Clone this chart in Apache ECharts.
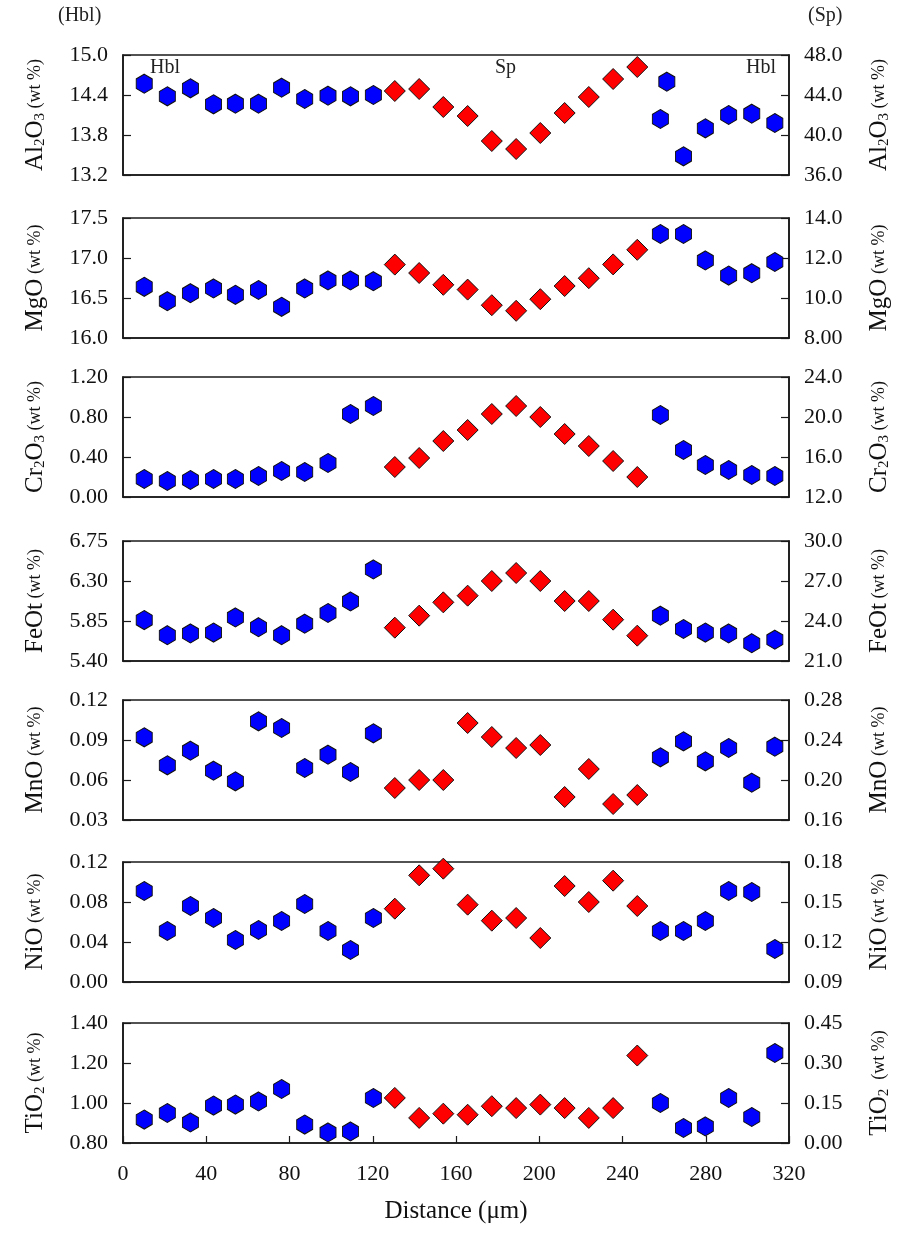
<!DOCTYPE html>
<html>
<head>
<meta charset="utf-8">
<script src="https://cdn.jsdelivr.net/npm/echarts@6/dist/echarts.min.js"></script>
<style>
html,body{margin:0;padding:0;background:#fff;}
#chart{width:905px;height:1238px;}
</style>
</head>
<body>
<div id="chart"></div>
<script>
// ---- Data ----
const distHbl = [10.2, 21.3, 32.4, 43.5, 54.0, 65.1, 76.2, 87.3, 98.5, 109.3, 120.3, 258.2, 269.3, 279.8, 291.0, 302.1, 313.2];
const distSp = [130.6, 142.3, 153.9, 165.6, 177.2, 188.9, 200.5, 212.2, 223.8, 235.5, 247.1];
const xTickLabels = ['0','40','80','120','160','200','240','280','320'];

const oxideKeys = ['Al2O3','MgO','Cr2O3','FeOt','MnO','NiO','TiO2'];

const al2o3Hbl = [14.57, 14.38, 14.50, 14.26, 14.27, 14.27, 14.51, 14.34, 14.39, 14.38, 14.40, 14.04, 13.48, 13.90, 14.10, 14.12, 13.98];
const al2o3Sp = [44.4, 44.6, 42.8, 41.9, 39.4, 38.6, 40.2, 42.2, 43.8, 45.6, 46.8];
const al2o3ExtraDist = [261.3];
const al2o3ExtraHbl = [14.60];

const mgoHbl = [16.64, 16.46, 16.56, 16.62, 16.54, 16.60, 16.39, 16.62, 16.72, 16.72, 16.71, 17.30, 17.30, 16.97, 16.78, 16.81, 16.95];
const mgoSp = [11.67, 11.25, 10.66, 10.42, 9.64, 9.36, 9.94, 10.60, 10.99, 11.68, 12.41];

const cr2o3Hbl = [0.18, 0.16, 0.17, 0.18, 0.18, 0.21, 0.26, 0.25, 0.34, 0.83, 0.91, 0.82, 0.47, 0.32, 0.27, 0.22, 0.21];
const cr2o3Sp = [15.0, 15.9, 17.6, 18.7, 20.3, 21.1, 20.0, 18.3, 17.1, 15.6, 14.0];

const feotHbl = [5.86, 5.69, 5.71, 5.72, 5.89, 5.78, 5.69, 5.82, 5.94, 6.07, 6.43, 5.91, 5.76, 5.72, 5.71, 5.60, 5.64];
const feotSp = [23.5, 24.4, 25.4, 25.9, 27.0, 27.6, 27.0, 25.5, 25.5, 24.1, 22.9];

const mnoHbl = [0.092, 0.071, 0.082, 0.067, 0.059, 0.104, 0.099, 0.069, 0.079, 0.066, 0.095, 0.077, 0.089, 0.074, 0.084, 0.058, 0.085];
const mnoSp = [0.192, 0.200, 0.200, 0.257, 0.243, 0.232, 0.235, 0.183, 0.211, 0.176, 0.185];

const nioHbl = [0.091, 0.051, 0.076, 0.064, 0.042, 0.052, 0.061, 0.078, 0.051, 0.032, 0.064, 0.051, 0.051, 0.061, 0.091, 0.090, 0.033];
const nioSp = [0.145, 0.170, 0.175, 0.148, 0.136, 0.138, 0.123, 0.162, 0.150, 0.166, 0.147];

const tio2Hbl = [0.917, 0.950, 0.903, 0.987, 0.992, 1.008, 1.070, 0.892, 0.853, 0.858, 1.025, 1.000, 0.875, 0.883, 1.025, 0.930, 1.250];
const tio2Sp = [0.169, 0.094, 0.110, 0.106, 0.138, 0.131, 0.144, 0.131, 0.094, 0.131, 0.328];

const hblTickLabels = [
  ['15.0','14.4','13.8','13.2'],
  ['17.5','17.0','16.5','16.0'],
  ['1.20','0.80','0.40','0.00'],
  ['6.75','6.30','5.85','5.40'],
  ['0.12','0.09','0.06','0.03'],
  ['0.12','0.08','0.04','0.00'],
  ['1.40','1.20','1.00','0.80']
];
const spTickLabels = [
  ['48.0','44.0','40.0','36.0'],
  ['14.0','12.0','10.0','8.00'],
  ['24.0','20.0','16.0','12.0'],
  ['30.0','27.0','24.0','21.0'],
  ['0.28','0.24','0.20','0.16'],
  ['0.18','0.15','0.12','0.09'],
  ['0.45','0.30','0.15','0.00']
];
const axisNames = [
  '{b|Al}{s|2}{b|O}{s|3}{w| (wt %)}',
  '{b|MgO}{w| (wt %)}',
  '{b|Cr}{s|2}{b|O}{s|3}{w| (wt %)}',
  '{b|FeOt}{w| (wt %)}',
  '{b|MnO}{w| (wt %)}',
  '{b|NiO}{w| (wt %)}',
  '{b|TiO}{s|2}{w| (wt %)}'
];
const axisNamesRight = [
  '{b|Al}{s|2}{b|O}{s|3}{w| (wt %)}',
  '{b|MgO}{w| (wt %)}',
  '{b|Cr}{s|2}{b|O}{s|3}{w| (wt %)}',
  '{b|FeOt}{w| (wt %)}',
  '{b|MnO}{w| (wt %)}',
  '{b|NiO}{w| (wt %)}',
  '{b|TiO}{s|2}{w|  (wt %)}'
];
const hblSeries = [al2o3Hbl, mgoHbl, cr2o3Hbl, feotHbl, mnoHbl, nioHbl, tio2Hbl];
const spSeries = [al2o3Sp, mgoSp, cr2o3Sp, feotSp, mnoSp, nioSp, tio2Sp];

// ---- Build chart ----
const FONT = 'Liberation Serif';
const gridTops = [55, 218, 377, 541, 700, 862, 1023];
const gridH = 120;
const frameColor = '#1a1a1a';
const hexPath = 'path://M0,-1 L0.866,-0.5 L0.866,0.5 L0,1 L-0.866,0.5 L-0.866,-0.5 Z';

const richName = {
  b: {fontFamily: FONT, fontSize: 25, color: '#111'},
  s: {fontFamily: FONT, fontSize: 15, color: '#111', verticalAlign: 'bottom', padding: [6, 0, 0, 0]},
  w: {fontFamily: FONT, fontSize: 18, color: '#111'}
};

function fmtFrom(labels) {
  return function (v) {
    for (const l of labels) { if (Math.abs(parseFloat(l) - v) < 1e-6) return l; }
    return '';
  };
}

const grid = [], xAxis = [], yAxis = [], series = [];
for (let i = 0; i < 7; i++) {
  const last = i === 6;
  grid.push({left: 123, right: 116, top: gridTops[i], height: gridH, show: true,
             borderColor: frameColor, borderWidth: 1.6, backgroundColor: 'transparent'});
  xAxis.push({
    gridIndex: i, type: 'value', min: 0, max: 320, interval: 40,
    axisLine: {show: true, onZero: false, lineStyle: {color: frameColor, width: 1.6}},
    axisTick: {show: last, inside: true, length: 7, lineStyle: {color: frameColor, width: 1.2}},
    axisLabel: {show: last, fontFamily: FONT, fontSize: 22, color: '#111', margin: 20,
                formatter: fmtFrom(xTickLabels)},
    splitLine: {show: false},
    name: last ? 'Distance (μm)' : '', nameLocation: 'middle', nameGap: 56,
    nameTextStyle: {fontFamily: FONT, fontSize: 25, color: '#111'}
  });
  const hl = hblTickLabels[i];
  const hmin = parseFloat(hl[3]), hmax = parseFloat(hl[0]);
  yAxis.push({
    gridIndex: i, type: 'value', position: 'left', min: hmin, max: hmax, interval: (hmax - hmin) / 3,
    axisLine: {show: true, lineStyle: {color: frameColor, width: 1.6}},
    axisTick: {show: true, inside: true, length: 8, lineStyle: {color: frameColor, width: 1.2}},
    axisLabel: {fontFamily: FONT, fontSize: 22, color: '#111', margin: 15, formatter: fmtFrom(hl)},
    splitLine: {show: false},
    name: axisNames[i], nameLocation: 'middle', nameRotate: 90, nameGap: 75,
    nameTextStyle: {rich: richName}
  });
  const sl = spTickLabels[i];
  const smin = parseFloat(sl[3]), smax = parseFloat(sl[0]);
  yAxis.push({
    gridIndex: i, type: 'value', position: 'right', min: smin, max: smax, interval: (smax - smin) / 3,
    axisLine: {show: true, lineStyle: {color: frameColor, width: 1.6}},
    axisTick: {show: true, inside: true, length: 8, lineStyle: {color: frameColor, width: 1.2}},
    axisLabel: {fontFamily: FONT, fontSize: 22, color: '#111', margin: 15, formatter: fmtFrom(sl)},
    splitLine: {show: false},
    name: axisNamesRight[i], nameLocation: 'middle', nameRotate: 90, nameGap: 78,
    nameTextStyle: {rich: richName}
  });
  const hData = distHbl.map((d, k) => [d, hblSeries[i][k]]);
  if (i === 0) al2o3ExtraDist.forEach((d, k) => hData.push([d, al2o3ExtraHbl[k]]));
  series.push({
    type: 'scatter', xAxisIndex: i, yAxisIndex: 2 * i, data: hData,
    symbol: hexPath, symbolSize: [16, 19],
    itemStyle: {color: '#0000ff', borderColor: '#111', borderWidth: 1, opacity: 1},
    z: 3
  });
  series.push({
    type: 'scatter', xAxisIndex: i, yAxisIndex: 2 * i + 1,
    data: distSp.map((d, k) => [d, spSeries[i][k]]),
    symbol: 'diamond', symbolSize: [21, 21],
    itemStyle: {color: '#ff0000', borderColor: '#111', borderWidth: 1, opacity: 1},
    z: 3
  });
}

const txt = (x, y, s, size, align) => ({type: 'text', left: x, top: y,
  style: {text: s, fontFamily: FONT, fontSize: size, fill: '#222', textAlign: align || 'left'}});

const option = {
  animation: false,
  backgroundColor: '#ffffff',
  grid, xAxis, yAxis, series,
  graphic: [
    txt(58, 6, '(Hbl)', 20),
    txt(808, 6, '(Sp)', 20),
    txt(150, 58, 'Hbl', 20),
    txt(495, 58, 'Sp', 20),
    txt(746, 58, 'Hbl', 20)
  ]
};

const chart = echarts.init(document.getElementById('chart'), null, {renderer: 'canvas'});
chart.setOption(option);
</script>
</body>
</html>
